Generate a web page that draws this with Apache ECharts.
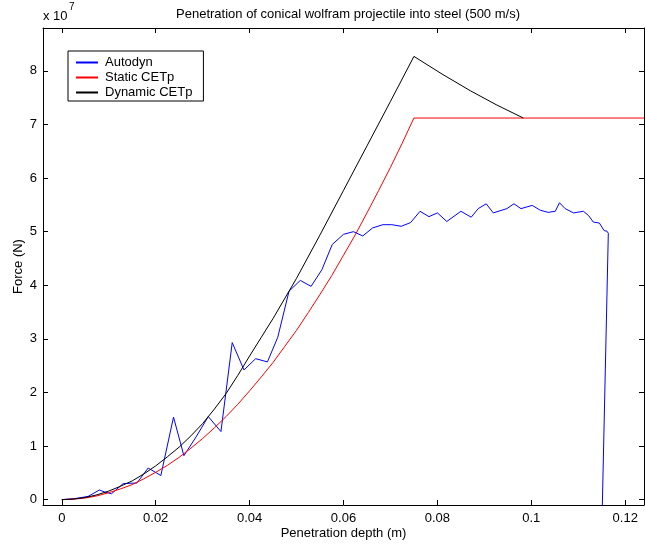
<!DOCTYPE html>
<html>
<head>
<meta charset="utf-8">
<script src="https://cdn.jsdelivr.net/npm/echarts@6.0.0/dist/echarts.min.js"></script>
<style>
  html, body { margin: 0; padding: 0; background: #fff; }
  #chart { width: 646px; height: 544px; }
</style>
</head>
<body>
<div id="chart"></div>
<script>
// force values are in units of 1e7 N
const autodynDepth = [
  0, 0.0028, 0.0056, 0.008, 0.0092, 0.0106, 0.0131, 0.016, 0.0184, 0.0211,
  0.0238, 0.026, 0.0286, 0.0312, 0.0339, 0.0363, 0.0388, 0.0413, 0.0438, 0.046,
  0.0484, 0.0508, 0.0531, 0.0554, 0.0576, 0.06, 0.0621, 0.0641, 0.0662, 0.0684,
  0.0703, 0.0723, 0.0743, 0.0763, 0.0782, 0.080, 0.082, 0.085, 0.0872, 0.0887,
  0.0904, 0.0919, 0.0948, 0.0963, 0.0978, 0.1002, 0.1019, 0.1036, 0.1051, 0.106,
  0.1072, 0.109, 0.1111, 0.1122, 0.1132, 0.1145, 0.1155, 0.1161, 0.1164, 0.1150
]
const autodynForce = [
  0, 0.02, 0.06, 0.18, 0.14, 0.11, 0.30, 0.31, 0.59, 0.45,
  1.54, 0.82, 1.17, 1.55, 1.27, 2.93, 2.42, 2.63, 2.57, 3.03,
  3.89, 4.09, 3.98, 4.29, 4.76, 4.95, 5.00, 4.92, 5.07, 5.13,
  5.13, 5.10, 5.17, 5.38, 5.28, 5.35, 5.19, 5.38, 5.27, 5.43,
  5.52, 5.35, 5.43, 5.52, 5.43, 5.49, 5.40, 5.36, 5.38, 5.54,
  5.43, 5.35, 5.38, 5.30, 5.18, 5.16, 5.02, 5.01, 4.97, -0.6
]

const staticDepth = [
  0, 0.0025, 0.005, 0.0075, 0.01, 0.0125, 0.015, 0.0175, 0.02, 0.0225,
  0.025, 0.0275, 0.03, 0.0325, 0.035, 0.0375, 0.04, 0.0425, 0.045, 0.0475,
  0.05, 0.0525, 0.055, 0.0575, 0.06, 0.0625, 0.065, 0.0675, 0.07, 0.0725,
  0.075, 0.124
]
const staticForce = [
  0, 0.01, 0.03, 0.07, 0.13, 0.20, 0.28, 0.39, 0.51, 0.64,
  0.79, 0.96, 1.14, 1.34, 1.55, 1.78, 2.03, 2.29, 2.56, 2.86,
  3.16, 3.49, 3.83, 4.18, 4.56, 4.94, 5.35, 5.77, 6.20, 6.65,
  7.12, 7.12
]

const dynamicDepth = [
  0, 0.0025, 0.005, 0.0075, 0.01, 0.0125, 0.015, 0.0175, 0.02, 0.0225,
  0.025, 0.0275, 0.03, 0.0325, 0.035, 0.0375, 0.04, 0.0425, 0.045, 0.05,
  0.055, 0.06, 0.065, 0.07, 0.075, 0.081, 0.087, 0.0925, 0.0983
]
const dynamicForce = [
  0, 0.01, 0.04, 0.09, 0.16, 0.25, 0.35, 0.48, 0.63, 0.80,
  0.98, 1.19, 1.42, 1.69, 1.98, 2.32, 2.68, 3.03, 3.38, 4.13,
  4.94, 5.77, 6.60, 7.43, 8.27, 7.94, 7.63, 7.37, 7.12
]

const xTicks = [0, 0.02, 0.04, 0.06, 0.08, 0.1, 0.12]
const yTicks = [0, 1, 2, 3, 4, 5, 6, 7, 8]

const FONT = '"Liberation Sans", Arial, Helvetica, sans-serif'

function pairs(xs, ys) {
  return xs.map((x, i) => [x, ys[i]])
}

function xAxisCfg(pos) {
  const bottom = pos === 'bottom'
  return {
    type: 'value',
    position: pos,
    min: -0.004,
    max: 0.124,
    axisLine: { show: true, onZero: false, lineStyle: { color: '#000', width: 1 } },
    axisTick: { show: true, inside: true, length: 5, customValues: xTicks, lineStyle: { color: '#000' } },
    axisLabel: {
      show: bottom,
      customValues: xTicks,
      color: '#000',
      fontSize: 13,
      fontFamily: FONT,
      margin: 7
    },
    splitLine: { show: false },
    name: bottom ? 'Penetration depth (m)' : '',
    nameLocation: 'middle',
    nameGap: 22,
    nameMoveOverlap: false,
    nameTextStyle: { color: '#000', fontSize: 13, fontFamily: FONT }
  }
}

function yAxisCfg(pos) {
  const left = pos === 'left'
  return {
    type: 'value',
    position: pos,
    min: -0.1,
    max: 8.8,
    axisLine: { show: true, onZero: false, lineStyle: { color: '#000', width: 1 } },
    axisTick: { show: true, inside: true, length: 5, customValues: yTicks, lineStyle: { color: '#000' } },
    axisLabel: {
      show: left,
      customValues: yTicks,
      color: '#000',
      fontSize: 13,
      fontFamily: FONT,
      margin: 6
    },
    splitLine: { show: false },
    name: left ? 'Force (N)' : '',
    nameLocation: 'middle',
    nameGap: 18,
    nameMoveOverlap: false,
    nameTextStyle: { color: '#000', fontSize: 13, fontFamily: FONT }
  }
}

const chart = echarts.init(document.getElementById('chart'), null, { renderer: 'canvas' })

const option = {
  animation: false,
  backgroundColor: '#fff',
  title: {
    text: 'Penetration of conical wolfram projectile into steel (500 m/s)',
    left: 343,
    textAlign: 'center',
    top: 3,
    textStyle: { color: '#000', fontSize: 13, fontWeight: 'normal', fontFamily: FONT }
  },
  grid: { left: 43, right: 2, top: 28, bottom: 39, containLabel: false, outerBoundsMode: 'none' },
  legend: {
    left: 68,
    top: 51,
    orient: 'vertical',
    icon: 'rect',
    itemWidth: 22,
    itemHeight: 2,
    itemGap: 2,
    padding: [5, 11, 2, 8],
    borderColor: '#000',
    borderWidth: 1,
    borderRadius: 0,
    backgroundColor: '#fff',
    textStyle: { color: '#000', fontSize: 13, fontFamily: FONT, padding: [0, 0, 0, 2] },
    data: ['Autodyn', 'Static CETp', 'Dynamic CETp']
  },
  graphic: [
    {
      type: 'text',
      left: 43,
      top: 10,
      style: { text: 'x 10', fill: '#000', font: '13px ' + FONT }
    },
    {
      type: 'text',
      left: 69,
      top: 2,
      style: { text: '7', fill: '#000', font: '10px ' + FONT }
    }
  ],
  xAxis: [xAxisCfg('bottom'), xAxisCfg('top')],
  yAxis: [yAxisCfg('left'), yAxisCfg('right')],
  series: [
    {
      name: 'Autodyn',
      type: 'line',
      data: pairs(autodynDepth, autodynForce),
      symbol: 'none',
      clip: true,
      lineStyle: { color: '#0000ff', width: 1 },
      itemStyle: { color: '#0000ff' }
    },
    {
      name: 'Static CETp',
      type: 'line',
      data: pairs(staticDepth, staticForce),
      symbol: 'none',
      lineStyle: { color: '#ff0000', width: 1 },
      itemStyle: { color: '#ff0000' }
    },
    {
      name: 'Dynamic CETp',
      type: 'line',
      data: pairs(dynamicDepth, dynamicForce),
      symbol: 'none',
      lineStyle: { color: '#000000', width: 1 },
      itemStyle: { color: '#000000' }
    }
  ]
}

chart.setOption(option)
</script>
</body>
</html>
